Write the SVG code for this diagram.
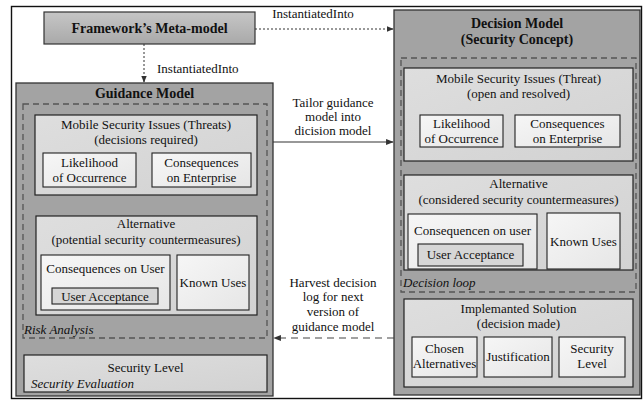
<svg xmlns="http://www.w3.org/2000/svg" width="644" height="400" viewBox="0 0 644 400" font-family="'Liberation Serif', 'DejaVu Serif', serif">
  <defs>
    <linearGradient id="gMeta" x1="0" y1="0" x2="0" y2="1">
      <stop offset="0" stop-color="#c6c6c6"/>
      <stop offset="1" stop-color="#a9a9a9"/>
    </linearGradient>
    <linearGradient id="gLight" x1="0" y1="0" x2="1" y2="1">
      <stop offset="0" stop-color="#dedede"/>
      <stop offset="1" stop-color="#d2d2d2"/>
    </linearGradient>
    <linearGradient id="gWhite" x1="0" y1="0" x2="1" y2="1">
      <stop offset="0" stop-color="#f6f6f6"/>
      <stop offset="1" stop-color="#e6e6e6"/>
    </linearGradient>
    <marker id="ah" viewBox="0 0 10 10" refX="9" refY="5" markerWidth="7" markerHeight="7" orient="auto">
      <path d="M0,1 L10,5 L0,9 z" fill="#333"/>
    </marker>
    <style>
      text { font-family: "Liberation Serif", "DejaVu Serif", serif; font-size: 13px; fill: #111; }
      .c { text-anchor: middle; }
      .b { font-weight: bold; font-size: 14px; }
      .i { font-style: italic; }
      .dark { fill: #a3a3a3; stroke: #333; stroke-width: 1.3; }
      .light { fill: url(#gLight); stroke: #222; stroke-width: 1.2; }
      .white { fill: url(#gWhite); stroke: #222; stroke-width: 1.1; }
      .acc { fill: #d6d6d6; stroke: #222; stroke-width: 1.1; }
      .dash { fill: none; stroke: #555; stroke-width: 1.3; stroke-dasharray: 6 4; }
      .dot { fill: none; stroke: #333; stroke-width: 1; stroke-dasharray: 2 2; }
      .solid { fill: none; stroke: #333; stroke-width: 1.1; }
      .dashline { fill: none; stroke: #444; stroke-width: 1.1; stroke-dasharray: 7 5; }
    </style>
  </defs>

  <rect width="644" height="400" fill="#fff"/>
  <!-- outer frame -->
  <rect x="11.5" y="6.5" width="630" height="392" fill="none" stroke="#111" stroke-width="1.4"/>

  <!-- meta-model -->
  <g id="meta-model">
    <rect x="44" y="12" width="211" height="32" fill="url(#gMeta)" stroke="#333" stroke-width="1.2"/>
    <text class="c b" x="149.5" y="33">Framework’s Meta-model</text>
  </g>

  <!-- guidance model -->
  <g id="guidance-model">
    <rect class="dark" x="16" y="83" width="257" height="313"/>
    <text class="c b" x="144.5" y="98">Guidance Model</text>
    <rect class="dash" x="23" y="104" width="244" height="234"/>
    <text class="i" x="24" y="334">Risk Analysis</text>

    <g id="g-threats">
      <rect class="light" x="35" y="115" width="222" height="80"/>
      <text class="c" x="146" y="129">Mobile Security Issues (Threats)</text>
      <text class="c" x="146" y="144">(decisions required)</text>
      <rect class="white" x="43" y="153" width="93" height="34"/>
      <text class="c" x="89.5" y="167">Likelihood</text>
      <text class="c" x="89.5" y="182">of Occurrence</text>
      <rect class="white" x="152" y="153" width="99" height="34"/>
      <text class="c" x="201.5" y="167">Consequences</text>
      <text class="c" x="201.5" y="182">on Enterprise</text>
    </g>

    <g id="g-alternative">
      <rect class="light" x="36" y="216" width="221" height="99"/>
      <text class="c" x="146" y="228">Alternative</text>
      <text class="c" x="146" y="244">(potential security countermeasures)</text>
      <rect class="white" x="41" y="255" width="129" height="55"/>
      <text class="c" x="105.5" y="273">Consequences on User</text>
      <rect class="acc" x="52" y="288" width="106" height="16"/>
      <text class="c" x="105" y="301">User Acceptance</text>
      <rect class="white" x="177" y="255" width="72" height="55"/>
      <text class="c" x="213" y="287">Known Uses</text>
    </g>

    <g id="g-security-level">
      <rect class="light" x="24" y="355" width="243" height="37"/>
      <text class="c" x="145.5" y="372">Security Level</text>
      <text class="i" x="31" y="388">Security Evaluation</text>
    </g>
  </g>

  <!-- decision model -->
  <g id="decision-model">
    <rect class="dark" x="394" y="10" width="246" height="385"/>
    <text class="c b" x="517" y="28">Decision Model</text>
    <text class="c b" x="517" y="44">(Security Concept)</text>
    <rect class="dash" x="401" y="58" width="235" height="234"/>
    <text class="i" x="403" y="287">Decision loop</text>

    <g id="d-threats">
      <rect class="light" x="404" y="68" width="229" height="93"/>
      <text class="c" x="518.5" y="83">Mobile Security Issues (Threat)</text>
      <text class="c" x="518.5" y="98">(open and resolved)</text>
      <rect class="white" x="420" y="115" width="83" height="32"/>
      <text class="c" x="461.5" y="128">Likelihood</text>
      <text class="c" x="461.5" y="143">of Occurrence</text>
      <rect class="white" x="515" y="115" width="105" height="32"/>
      <text class="c" x="567.5" y="128">Consequences</text>
      <text class="c" x="567.5" y="143">on Enterprise</text>
    </g>

    <g id="d-alternative">
      <rect class="light" x="404" y="175" width="229" height="95"/>
      <text class="c" x="518.5" y="188">Alternative</text>
      <text class="c" x="518.5" y="204">(considered security countermeasures)</text>
      <rect class="white" x="408" y="214" width="129" height="55"/>
      <text class="c" x="472.5" y="235">Consequencen on user</text>
      <rect class="acc" x="418" y="244" width="105" height="22"/>
      <text class="c" x="470.5" y="259">User Acceptance</text>
      <rect class="white" x="547" y="213" width="73" height="56"/>
      <text class="c" x="583.5" y="246">Known Uses</text>
    </g>

    <g id="d-solution">
      <rect class="light" x="404" y="299" width="229" height="88"/>
      <text class="c" x="518.5" y="313">Implemanted Solution</text>
      <text class="c" x="518.5" y="328">(decision made)</text>
      <rect class="white" x="412" y="337" width="65" height="40"/>
      <text class="c" x="444.5" y="353">Chosen</text>
      <text class="c" x="444.5" y="368">Alternatives</text>
      <rect class="white" x="484" y="337" width="68" height="40"/>
      <text class="c" x="518" y="361">Justification</text>
      <rect class="white" x="559" y="337" width="66" height="40"/>
      <text class="c" x="592" y="353">Security</text>
      <text class="c" x="592" y="368">Level</text>
    </g>
  </g>

  <!-- connectors -->
  <g id="connectors">
    <line class="dot" x1="255" y1="29" x2="393" y2="29" marker-end="url(#ah)"/>
    <text class="c" x="313" y="18">InstantiatedInto</text>

    <line class="dot" x1="144" y1="44" x2="144" y2="82" marker-end="url(#ah)"/>
    <text x="157" y="73">InstantiatedInto</text>

    <line class="solid" x1="273" y1="142" x2="393" y2="142" marker-end="url(#ah)"/>
    <text class="c" x="333" y="107">Tailor guidance</text>
    <text class="c" x="333" y="121">model into</text>
    <text class="c" x="333" y="135">dicision model</text>

    <line class="dashline" x1="394" y1="338" x2="274" y2="338" marker-end="url(#ah)"/>
    <text class="c" x="333" y="287">Harvest decision</text>
    <text class="c" x="333" y="301">log for next</text>
    <text class="c" x="333" y="316">version of</text>
    <text class="c" x="333" y="331">guidance model</text>
  </g>
</svg>
